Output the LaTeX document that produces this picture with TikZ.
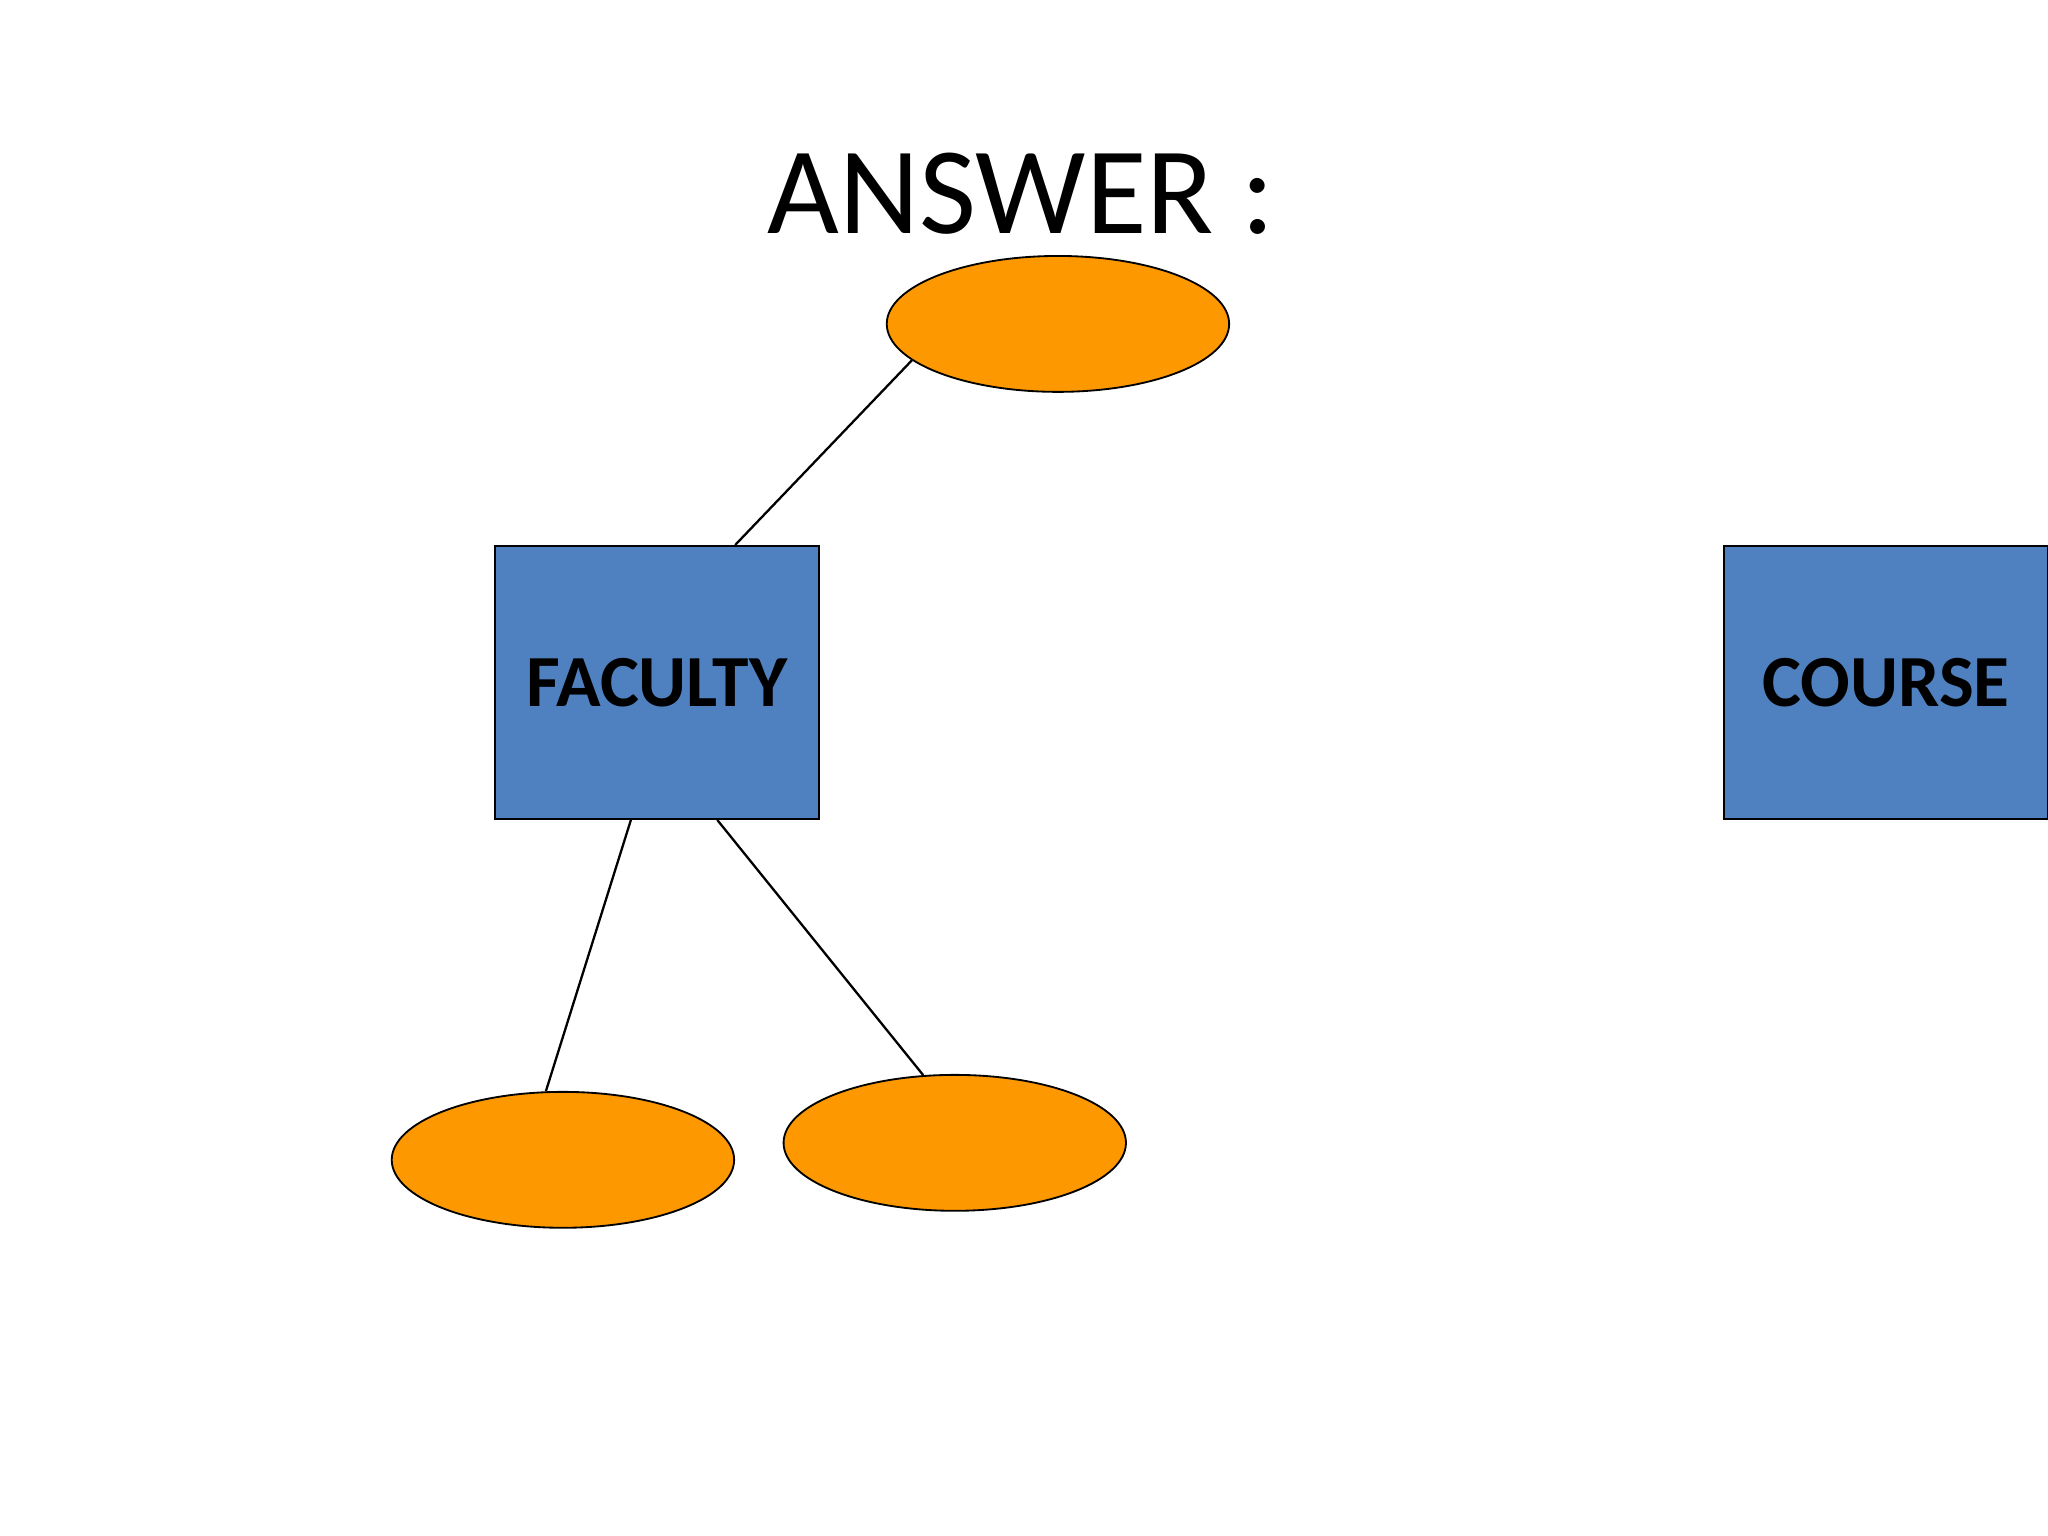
\documentclass[tikz,border=0pt]{standalone}
\usepackage{fontspec}
\setmainfont{Carlito}
\usetikzlibrary{shapes.geometric,calc}
\definecolor{attr}{RGB}{253,152,0}
\definecolor{ent}{RGB}{79,129,192}
\begin{document}
\begin{tikzpicture}[x=0.01cm,y=-0.01cm,
  attrib/.style={ellipse,draw,fill=attr,minimum width=262\pgflinewidth*0+2.62cm,minimum height=1.04cm,inner sep=0pt},
  entity/.style={rectangle,draw,fill=ent,minimum width=2.48cm,minimum height=2.09cm,font=\fontsize{16}{18}\selectfont\bfseries},
  link/.style={draw,line width=0.5pt}]
\useasboundingbox (0,0) rectangle (1568,1176);
\fill[white] (0,0) rectangle (1568,1176);
\node (title) at (782,148) {\fontsize{27}{30}\selectfont ANSWER :};
\node[attrib] (top) at (810,248) {};
\node[attrib] (bl) at (431,888) {};
\node[attrib] (br) at (731,875) {};
\node[entity] (fac) at (503,522.5) {FACULTY};
\node[entity] (course) at (1444,522.5) {COURSE};
\draw[link] (top.194) -- ($(fac.north west)!0.74!(fac.north east)$);
\draw[link] ($(fac.south west)!0.42!(fac.south east)$) -- (bl.104);
\draw[link] ($(fac.south west)!0.685!(fac.south east)$) -- (br.115);
\end{tikzpicture}
\end{document}
